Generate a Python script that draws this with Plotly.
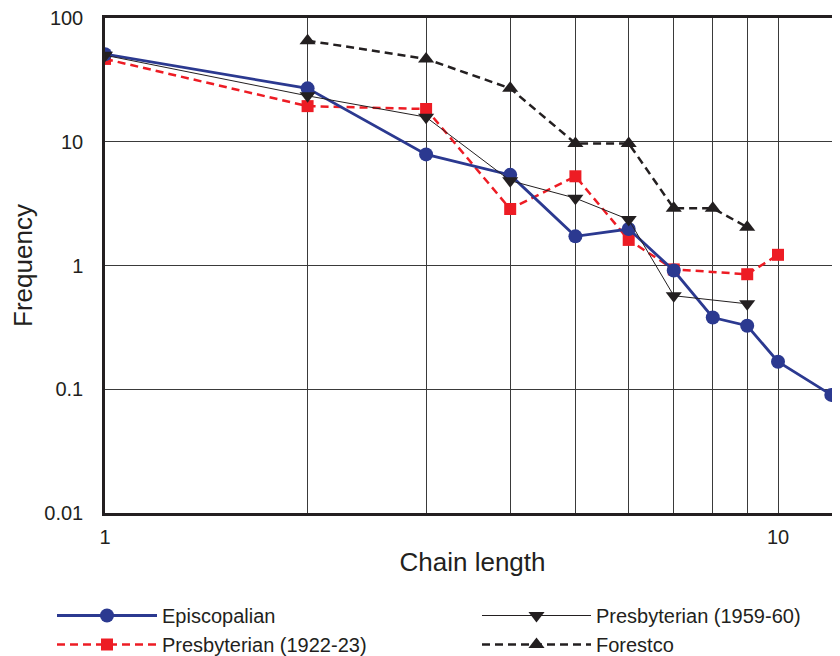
import plotly.graph_objects as go

# ---- data ----
episcopalian_x = [1, 2, 3, 4, 5, 6, 7, 8, 9, 10, 12]
episcopalian_y = [51, 27, 7.9, 5.4, 1.72, 1.97, 0.91, 0.38, 0.326, 0.167, 0.09]

presb1922_x = [1, 2, 3, 4, 5, 6, 7, 9, 10]
presb1922_y = [46.7, 19.4, 18.4, 2.86, 5.26, 1.61, 0.93, 0.85, 1.22]

presb1959_x = [1, 2, 3, 4, 5, 6, 7, 9]
presb1959_y = [50, 23.5, 15.8, 4.85, 3.5, 2.35, 0.57, 0.49]

forestco_x = [2, 3, 4, 5, 6, 7, 8, 9]
forestco_y = [65.6, 46.7, 27, 9.7, 9.7, 2.9, 2.9, 2.04]

x_tickvals = [1, 10]
x_ticktext = ["1", "10"]
x_minor_vals = [2, 3, 4, 5, 6, 7, 8, 9]
y_tickvals = [0.01, 0.1, 1, 10, 100]
y_ticktext = ["0.01", "0.1", "1", "10", "100"]

INK = "#231f20"
BLUE = "#2b3990"
RED = "#ed1c24"
FONT = "Liberation Sans, Arial, sans-serif"

# the page body has an 8px margin; the figure is offset/sized so the plot lands where the reference has it
FIG_W, FIG_H = 832, 648
M_L, M_R, M_T, M_B = 97, 0, 10, 143
PLOT_W = FIG_W - M_L - M_R
PLOT_H = FIG_H - M_T - M_B
PX_PER_DECADE_X = 673

fig = go.Figure()

fig.add_trace(go.Scatter(
    x=presb1922_x, y=presb1922_y, name="Presbyterian (1922-23)", mode="lines+markers",
    line=dict(color=RED, width=2.5, dash="8px,5px"),
    marker=dict(symbol="square", size=12, color=RED), legend="legend", legendrank=2))
fig.add_trace(go.Scatter(
    x=episcopalian_x, y=episcopalian_y, name="Episcopalian", mode="lines+markers",
    line=dict(color=BLUE, width=2.8),
    marker=dict(symbol="circle", size=14, color=BLUE), legend="legend", legendrank=1))
fig.add_trace(go.Scatter(
    x=presb1959_x, y=presb1959_y, name="Presbyterian (1959-60)", mode="lines+markers",
    line=dict(color=INK, width=1),
    marker=dict(symbol="triangle-down", size=14, color=INK), legend="legend2", legendrank=1))
fig.add_trace(go.Scatter(
    x=forestco_x, y=forestco_y, name="Forestco", mode="lines+markers",
    line=dict(color=INK, width=2.5, dash="8px,5px"),
    marker=dict(symbol="triangle-up", size=14, color=INK), legend="legend2", legendrank=2))

legend_common = dict(orientation="v", xanchor="left", yanchor="top", traceorder="normal",
                     font=dict(size=20, color=INK, family=FONT),
                     bgcolor="rgba(0,0,0,0)")
legend_top = -(588 - (FIG_H - M_B)) / PLOT_H

fig.update_layout(
    width=FIG_W, height=FIG_H,
    margin=dict(l=M_L, r=M_R, t=M_T, b=M_B, autoexpand=False),
    paper_bgcolor="white", plot_bgcolor="white",
    font=dict(family=FONT, color=INK, size=20),
    legend=dict(x=(44 - M_L) / PLOT_W, y=legend_top, itemwidth=100, **legend_common),
    legend2=dict(x=(469 - M_L) / PLOT_W, y=legend_top, itemwidth=109, **legend_common),
    xaxis=dict(
        type="log", range=[0, PLOT_W / PX_PER_DECADE_X], automargin=False,
        tickmode="array", tickvals=x_tickvals, ticktext=x_ticktext,
        ticks="outside", ticklen=4, tickcolor="rgba(0,0,0,0)",
        tickfont=dict(size=20, color=INK), ticklabeloverflow="allow",
        showgrid=True, gridcolor="#3a3a3a", gridwidth=1,
        minor=dict(tickvals=x_minor_vals, showgrid=True, gridcolor="#3a3a3a", gridwidth=1, ticks=""),
        showline=True, linecolor=INK, linewidth=2.5, mirror=True,
        zeroline=False,
        title=dict(text="Chain length", font=dict(size=26, color=INK), standoff=7),
    ),
    yaxis=dict(
        type="log", range=[-2, 2], automargin=False,
        tickmode="array", tickvals=y_tickvals, ticktext=y_ticktext,
        ticks="outside", ticklen=15, tickcolor="rgba(0,0,0,0)",
        tickfont=dict(size=20, color=INK), ticklabeloverflow="allow",
        showgrid=True, gridcolor="#3a3a3a", gridwidth=1,
        showline=True, linecolor=INK, linewidth=2.5, mirror=False,
        zeroline=False,
        title=dict(text="Frequency", font=dict(size=26, color=INK), standoff=19),
    ),
)

fig.write_html("out.html")
